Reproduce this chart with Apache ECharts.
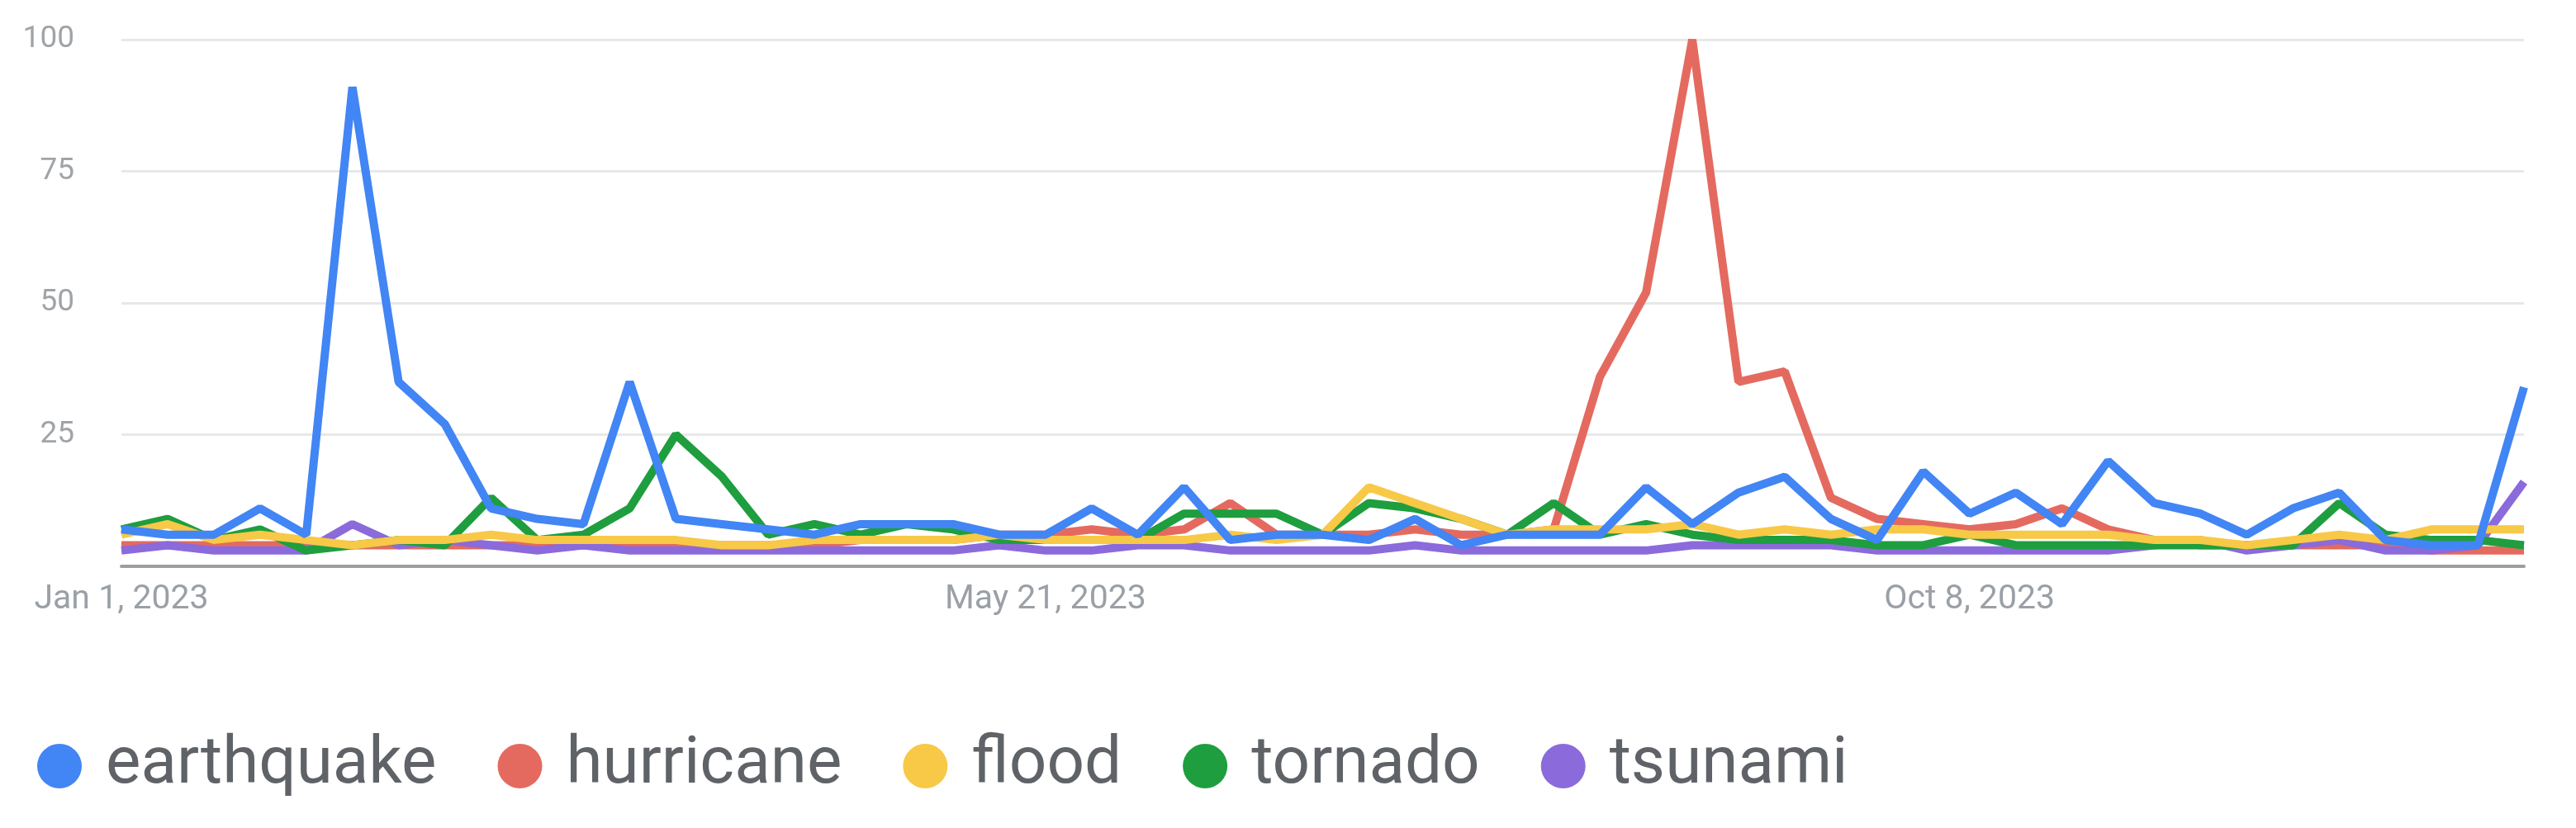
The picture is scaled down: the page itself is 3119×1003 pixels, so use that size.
<!DOCTYPE html>
<html>
<head>
<meta charset="utf-8">
<script src="https://cdn.jsdelivr.net/npm/echarts@6/dist/echarts.min.js"></script>
<style>html,body{margin:0;padding:0;background:#fff}#chart{width:3119px;height:1003px}</style>
</head>
<body>
<div id="chart"></div>
<script>
// weekly dates
var weeks = ['Jan 1, 2023','Jan 8, 2023','Jan 15, 2023','Jan 22, 2023','Jan 29, 2023',
  'Feb 5, 2023','Feb 12, 2023','Feb 19, 2023','Feb 26, 2023',
  'Mar 5, 2023','Mar 12, 2023','Mar 19, 2023','Mar 26, 2023',
  'Apr 2, 2023','Apr 9, 2023','Apr 16, 2023','Apr 23, 2023','Apr 30, 2023',
  'May 7, 2023','May 14, 2023','May 21, 2023','May 28, 2023',
  'Jun 4, 2023','Jun 11, 2023','Jun 18, 2023','Jun 25, 2023',
  'Jul 2, 2023','Jul 9, 2023','Jul 16, 2023','Jul 23, 2023','Jul 30, 2023',
  'Aug 6, 2023','Aug 13, 2023','Aug 20, 2023','Aug 27, 2023',
  'Sep 3, 2023','Sep 10, 2023','Sep 17, 2023','Sep 24, 2023',
  'Oct 1, 2023','Oct 8, 2023','Oct 15, 2023','Oct 22, 2023','Oct 29, 2023',
  'Nov 5, 2023','Nov 12, 2023','Nov 19, 2023','Nov 26, 2023',
  'Dec 3, 2023','Dec 10, 2023','Dec 17, 2023','Dec 24, 2023','Dec 31, 2023'];
var shownLabels = [0, 20, 40];

var earthquake = [7,6,6,11,6,91,35,27,11,9,8,35,9,8,7,6,8,8,8,6,6,11,6,15,5,6,6,5,9,4,6,6,6,15,8,14,17,9,5,18,10,14,8,20,12,10,6,11,14,5,4,4,34];
var hurricane  = [4,4,4,4,4,4,4,4,4,4,4,4,4,4,4,4,5,5,5,6,6,7,6,7,12,6,6,6,7,6,6,7,36,52,100,35,37,13,9,8,7,8,11,7,5,4,4,4,4,4,3,3,3];
var flood      = [6,8,5,6,5,4,5,5,6,5,5,5,5,4,4,5,5,5,5,6,5,5,5,5,6,5,6,15,12,9,6,7,7,7,8,6,7,6,7,7,6,6,6,6,5,5,4,5,6,5,7,7,7];
var tornado    = [7,9,5,7,3,4,5,4,13,5,6,11,25,17,6,8,6,8,7,5,5,5,5,10,10,10,6,12,11,9,6,12,6,8,6,5,5,5,4,4,6,4,4,4,4,4,4,4,12,6,5,5,4];
var tsunami    = [3,4,3,3,3,8,4,5,4,3,4,3,3,3,3,3,3,3,3,4,3,3,4,4,3,3,3,3,4,3,3,3,3,3,4,4,4,4,3,3,3,3,3,3,4,5,3,4,5,3,3,4,16];

var names = ['earthquake','hurricane','flood','tornado','tsunami'];
var colors = ['#4285f4','#e46a5f','#f8c847','#1e9e3e','#8b6adb'];
var values = [earthquake, hurricane, flood, tornado, tsunami];

var series = names.map(function (n, k) {
  return {
    name: n, type: 'line', data: values[k], symbol: 'none',
    lineStyle: {width: 10, color: colors[k]}, itemStyle: {color: colors[k]},
    z: k === 1 ? 1 : 5 - k
  };
});

var options = {
  animation: false,
  grid: {left: 147, right: 63, top: 48, bottom: 317},
  legend: {
    bottom: 30, left: 40, icon: 'circle', itemWidth: 54, itemHeight: 54, itemGap: 74,
    textStyle: {fontSize: 80, color: '#5f6368', fontFamily: 'Roboto', padding: [0, 0, 0, 24]},
    data: names
  },
  xAxis: {
    type: 'category', boundaryGap: false, data: weeks,
    axisLine: {lineStyle: {color: '#9e9e9e', width: 4}},
    axisTick: {show: false},
    axisLabel: {
      interval: function (i) { return shownLabels.indexOf(i) >= 0; },
      fontSize: 41, color: '#9aa0a6', fontFamily: 'Roboto', margin: 20
    }
  },
  yAxis: {
    type: 'value', min: 0, max: 100, interval: 25,
    axisLine: {show: false}, axisTick: {show: false},
    axisLabel: {
      formatter: function (v) { return v === 0 ? '' : v; },
      fontSize: 37, color: '#a0a4a8', fontFamily: 'Roboto', margin: 57
    },
    splitLine: {lineStyle: {color: '#e8e8e8', width: 3}}
  },
  series: series
};

var myChart = echarts.init(document.getElementById('chart'));
myChart.setOption(options);
</script>
</body>
</html>
